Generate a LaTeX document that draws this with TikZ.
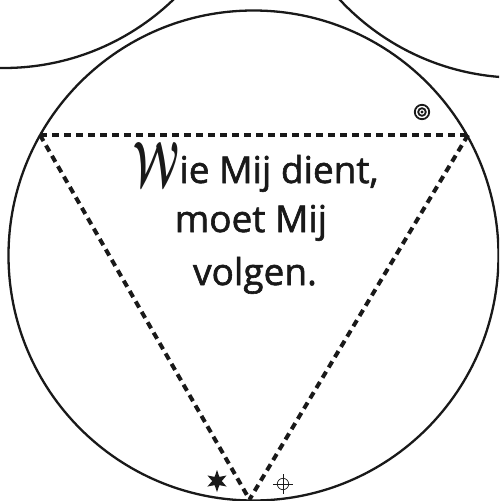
\documentclass[tikz,border=0pt]{standalone}
\usepackage{amsmath}
\usepackage{fontspec}
\usepackage{graphicx}
\setmainfont{Open Sans}
\newfontfamily\captfont{Open Sans}[FakeBold=1.6]
\usetikzlibrary{shapes.geometric,calc}
\begin{document}
\begin{tikzpicture}[x=1pt,y=-1pt,
  ring/.style={line width=2.3pt, draw=black!90},
  dashline/.style={line width=4pt, draw=black!90, dash pattern=on 7pt off 5pt},
  txt/.style={inner sep=0pt, font=\captfont\fontsize{37}{51}\selectfont, text=black!90},
  sym/.style={line width=1.8pt, draw=black!90},
  thinsym/.style={line width=0.7pt, draw=black!90}]
\useasboundingbox (0,0) rectangle (499,501);
\clip (0,0) rectangle (499,501);
% circles
\coordinate (mc) at (253.5,255.5);
\coordinate (lc) at (3.6,-177);
\coordinate (rc) at (519,-167.3);
\draw[ring] (mc) circle[radius=245pt];
\draw[ring] (lc) circle[radius=245pt];
\draw[ring] (rc) circle[radius=245pt];
% triangle
\coordinate (A) at (40,135);
\coordinate (B) at (468,135);
\coordinate (C) at (249.5,499.5);
\draw[dashline] (A) -- (B);
\draw[dashline] (B) -- (C);
\draw[dashline] (A) -- (C);
% text
\node[txt, anchor=base] (l1) at (256,183) {\raisebox{-2pt}{\resizebox{46pt}{43pt}{$\boldsymbol{\mathcal{W}}$}}ie Mij dient,};
\node[txt, anchor=base] (l2) at (251,232) {moet Mij};
\node[txt, anchor=base] (l3) at (255,285) {volgen.};
% target symbol
\coordinate (tgt) at (422,112);
\draw[sym] (tgt) circle[radius=7.2pt];
\draw[sym] (tgt) circle[radius=3.8pt];
\fill[black!90] (tgt) circle[radius=1.7pt];
% star
\node[star, star points=6, star point ratio=2.3, fill=black!90, inner sep=0pt, minimum size=22pt] (st) at (217,481) {};
% crosshair
\coordinate (ch) at (283,484);
\draw[thinsym] (ch) circle[radius=5.7pt];
\draw[thinsym] ($(ch)+(-10,0)$) -- ($(ch)+(10,0)$);
\draw[thinsym] ($(ch)+(0,-10)$) -- ($(ch)+(0,10)$);
\end{tikzpicture}
\end{document}
